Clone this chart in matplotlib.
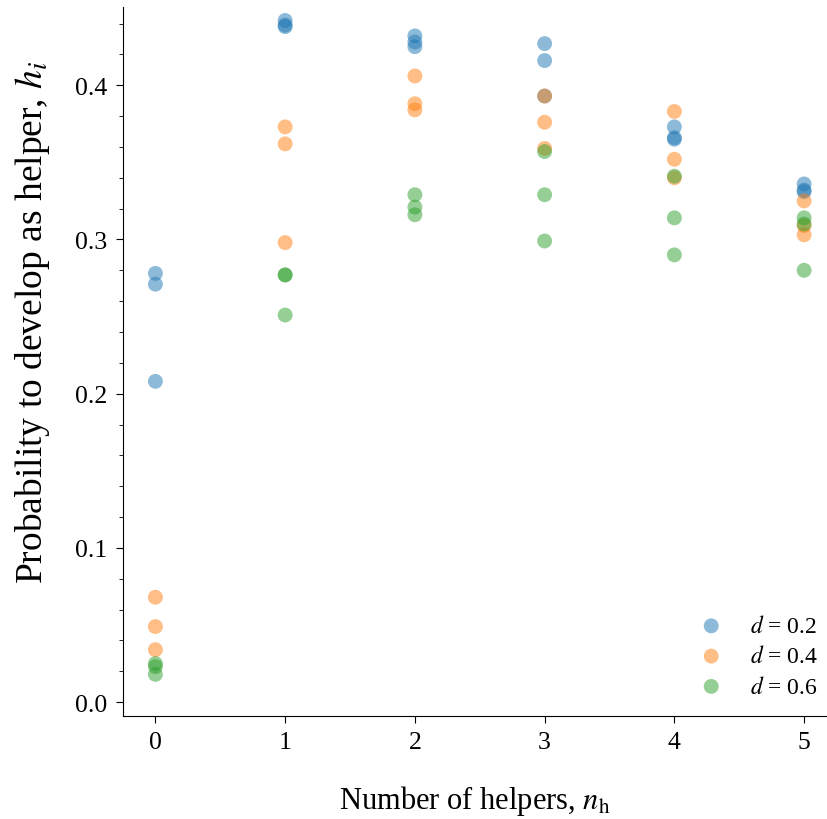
import matplotlib
matplotlib.use("Agg")
import matplotlib.pyplot as plt
from matplotlib.ticker import MultipleLocator

plt.rcParams['font.family'] = ['Liberation Serif', 'DejaVu Serif']
plt.rcParams['mathtext.fontset'] = 'stix'

n_helpers = [0, 1, 2, 3, 4, 5]
labels = ["$d$ = 0.2", "$d$ = 0.4", "$d$ = 0.6"]
colors = ["#1f77b4", "#ff7f0e", "#2ca02c"]

h_d02 = [[0.278, 0.271, 0.208],
         [0.442, 0.439, 0.438],
         [0.432, 0.428, 0.425],
         [0.427, 0.416, 0.393],
         [0.373, 0.366, 0.365],
         [0.336, 0.332, 0.331]]
h_d04 = [[0.068, 0.049, 0.034],
         [0.373, 0.362, 0.298],
         [0.406, 0.388, 0.384],
         [0.393, 0.376, 0.359],
         [0.383, 0.352, 0.340],
         [0.325, 0.309, 0.303]]
h_d06 = [[0.025, 0.023, 0.018],
         [0.277, 0.277, 0.251],
         [0.329, 0.321, 0.316],
         [0.357, 0.329, 0.299],
         [0.341, 0.314, 0.290],
         [0.314, 0.310, 0.280]]

fig = plt.figure(figsize=(8.27, 8.2), dpi=100)
ax = fig.add_axes([0.1487, 0.1256, 0.8503, 0.8644])

for series, lab, col in zip([h_d02, h_d04, h_d06], labels, colors):
    xs, ys = [], []
    for n, vals in zip(n_helpers, series):
        for v in vals:
            xs.append(n)
            ys.append(v)
    ax.scatter(xs, ys, s=115, color=col, alpha=0.5, edgecolors='none', label=lab)

ax.set_xlim(-0.25, 5.17)
ax.set_ylim(-0.009, 0.4506)
ax.set_xticks(n_helpers)
ax.yaxis.set_major_locator(MultipleLocator(0.1))
ax.yaxis.set_minor_locator(MultipleLocator(0.02))
ax.tick_params(axis='both', which='major', labelsize=18.5, length=5, pad=6, direction='out')
ax.tick_params(axis='y', which='minor', length=3)
for s in ['top', 'right']:
    ax.spines[s].set_visible(False)

ax.set_xlabel("Number of helpers, $n_\\mathrm{h}$", fontsize=22)
ax.xaxis.set_label_coords(0.5, -0.095)
ax.xaxis.label.set_va('top')
ax.set_ylabel("Probability to develop as helper, $h_i$", fontsize=27)
ax.yaxis.set_label_coords(-0.101, 0.557)

ax.legend(loc='lower right', frameon=False, fontsize=17, handletextpad=0.65,
          markerscale=1.0, borderaxespad=0.2, labelspacing=0.35,
          bbox_to_anchor=(1.009, 0.006))

fig.savefig("out.png", dpi=100)
